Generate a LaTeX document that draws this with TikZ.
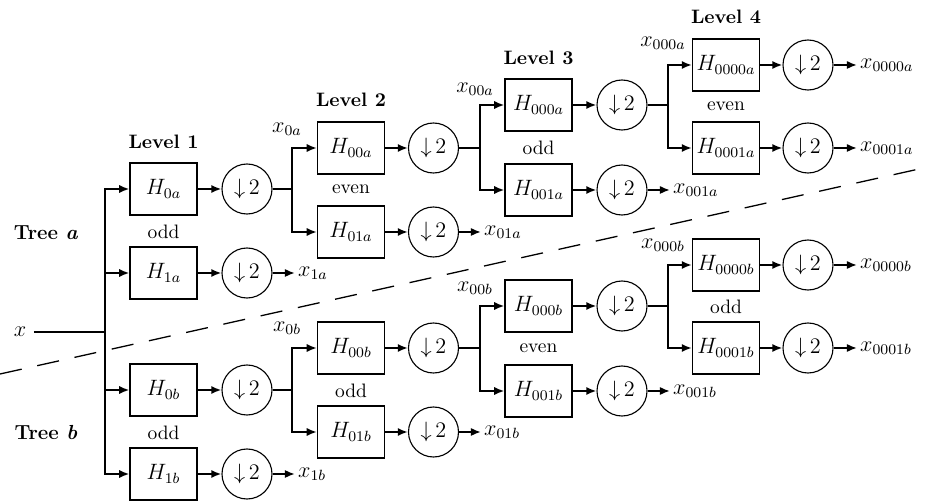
\documentclass[tikz,border=0pt]{standalone}
\usetikzlibrary{arrows.meta}
\newcommand\stg[5]{%
  \node[filt] (H#1) at (#2,#4) {$H_{#5}$};
  \node[dec] (D#1) at (#3,#4) {$\downarrow\mkern-2mu 2$};
  \draw[arr] (H#1.east) -- (D#1.west);}
\begin{document}
\begin{tikzpicture}[x=0.54pt,y=-0.54pt,
  filt/.style={draw, line width=0.6pt, minimum width=36.2pt, minimum height=28.1pt, inner sep=0pt, font=\large},
  dec/.style={draw, circle, line width=0.6pt, minimum size=27pt, inner sep=0pt, font=\large},
  wire/.style={line width=1.1pt},
  arr/.style={wire, -{Latex[length=5.5pt,width=4.5pt]}},
  lvl/.style={font=\fontsize{10.5}{12}\selectfont\bfseries},
  par/.style={font=\fontsize{10.5}{12}\selectfont},
  outl/.style={anchor=west, inner sep=1.5pt, font=\large},
  lab/.style={inner sep=1pt, font=\large}
  ]
\useasboundingbox (0,0) rectangle (928,502);

% ---------- stages: tree a ----------
\stg{0a}{163.5}{247}{189}{0a}
\stg{1a}{163.5}{247}{273}{1a}
\stg{00a}{351}{433.5}{148}{00a}
\stg{01a}{351}{433.5}{232}{01a}
\stg{000a}{538.5}{622}{105}{000a}
\stg{001a}{538.5}{622}{190}{001a}
\stg{0000a}{726}{808}{65}{0000a}
\stg{0001a}{726}{808}{148}{0001a}
% ---------- stages: tree b ----------
\stg{0b}{163.5}{247}{390}{0b}
\stg{1b}{163.5}{247}{474}{1b}
\stg{00b}{351}{433.5}{348}{00b}
\stg{01b}{351}{433.5}{432}{01b}
\stg{000b}{538.5}{622}{306}{000b}
\stg{001b}{538.5}{622}{391}{001b}
\stg{0000b}{726}{808}{265}{0000b}
\stg{0001b}{726}{808}{348}{0001b}

% ---------- input ----------
\node[inner sep=4pt, font=\large] (xin) at (20,332) {$x$};
\coordinate (J0) at (105,332);
\draw[wire] (xin.east) -- (J0);
\draw[arr] (J0) |- (H0a.west);
\draw[arr] (J0) |- (H1a.west);
\draw[arr] (J0) |- (H0b.west);
\draw[arr] (J0) |- (H1b.west);

% ---------- junctions ----------
\coordinate (J0a) at (292,189);
\coordinate (J00a) at (480,148);
\coordinate (J000a) at (668,105);
\coordinate (J0b) at (292,390);
\coordinate (J00b) at (480,348);
\coordinate (J000b) at (668,306);

\draw[wire] (D0a.east) -- (J0a);
\draw[arr] (J0a) |- (H00a.west);
\draw[arr] (J0a) |- (H01a.west);
\draw[wire] (D00a.east) -- (J00a);
\draw[arr] (J00a) |- (H000a.west);
\draw[arr] (J00a) |- (H001a.west);
\draw[wire] (D000a.east) -- (J000a);
\draw[arr] (J000a) |- (H0000a.west);
\draw[arr] (J000a) |- (H0001a.west);

\draw[wire] (D0b.east) -- (J0b);
\draw[arr] (J0b) |- (H00b.west);
\draw[arr] (J0b) |- (H01b.west);
\draw[wire] (D00b.east) -- (J00b);
\draw[arr] (J00b) |- (H000b.west);
\draw[arr] (J00b) |- (H001b.west);
\draw[wire] (D000b.east) -- (J000b);
\draw[arr] (J000b) |- (H0000b.west);
\draw[arr] (J000b) |- (H0001b.west);

% ---------- outputs ----------
\node[outl] (o1a) at (295,273) {$x_{1a}$};
\node[outl] (o01a) at (481,232) {$x_{01a}$};
\node[outl] (o001a) at (670,190) {$x_{001a}$};
\node[outl] (o0000a) at (857,65) {$x_{0000a}$};
\node[outl] (o0001a) at (857,148) {$x_{0001a}$};
\node[outl] (o1b) at (295,474) {$x_{1b}$};
\node[outl] (o01b) at (481,432) {$x_{01b}$};
\node[outl] (o001b) at (670,391) {$x_{001b}$};
\node[outl] (o0000b) at (857,265) {$x_{0000b}$};
\node[outl] (o0001b) at (857,348) {$x_{0001b}$};
\foreach \n in {1a,01a,001a,0000a,0001a,1b,01b,001b,0000b,0001b}
  \draw[arr] (D\n.east) -- (o\n.west);

% ---------- junction labels ----------
\node[lab] (l0a) at (287,129) {$x_{0a}$};
\node[lab] (l00a) at (475,89) {$x_{00a}$};
\node[lab] (l000a) at (663,43) {$x_{000a}$};
\node[lab] (l0b) at (287,328) {$x_{0b}$};
\node[lab] (l00b) at (475,288) {$x_{00b}$};
\node[lab] (l000b) at (663,245) {$x_{000b}$};

% ---------- level labels ----------
\node[lvl] (lv1) at (163.5,142) {Level 1};
\node[lvl] (lv2) at (351,100) {Level 2};
\node[lvl] (lv3) at (538.5,58) {Level 3};
\node[lvl] (lv4) at (726,17) {Level 4};

% ---------- parity labels ----------
\node[par] (pa1) at (163.5,232) {odd};
\node[par] (pa2) at (351,189) {even};
\node[par] (pa3) at (538.5,148) {odd};
\node[par] (pa4) at (726,106) {even};
\node[par] (pb1) at (163.5,433) {odd};
\node[par] (pb2) at (351,391) {odd};
\node[par] (pb3) at (538.5,348) {even};
\node[par] (pb4) at (726,307) {odd};

% ---------- tree labels ----------
\node[font=\fontsize{11}{13}\selectfont\bfseries] (ta) at (46,233) {Tree \textit{a}};
\node[font=\fontsize{11}{13}\selectfont\bfseries] (tb) at (46,433) {Tree \textit{b}};

% ---------- divider ----------
\draw[line width=0.7pt, dash pattern=on 12pt off 8.6pt] (0,374) -- (928,167);
\end{tikzpicture}
\end{document}
